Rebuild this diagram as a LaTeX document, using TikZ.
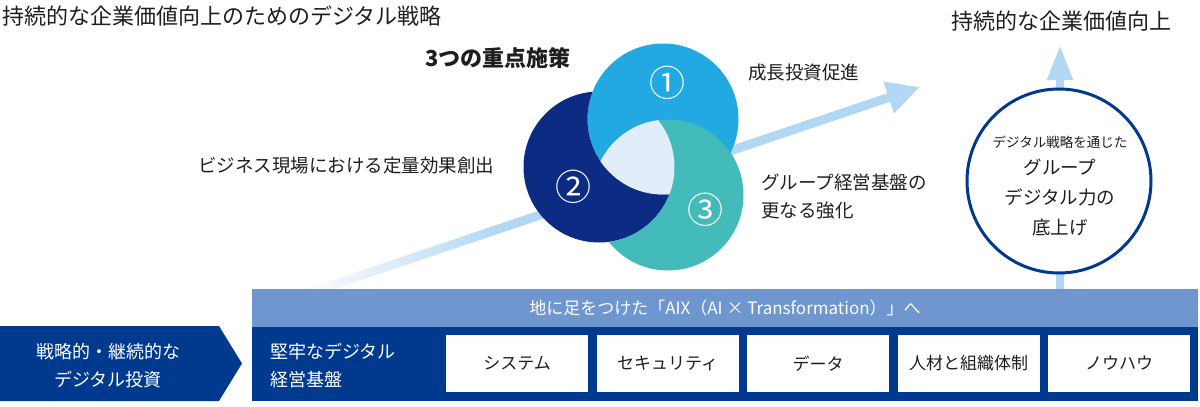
\documentclass[tikz,border=0pt]{standalone}
\usepackage{fontspec}
\setmainfont{Noto Sans CJK JP}
\usetikzlibrary{calc,arrows.meta}
\definecolor{skyblue}{HTML}{22A9E1}
\definecolor{navyblue}{HTML}{0B2C82}
\definecolor{tealgreen}{HTML}{44BBBB}
\definecolor{corefill}{HTML}{E1EDF8}
\definecolor{arrowblue}{HTML}{B2D7F2}
\definecolor{barblue}{HTML}{003A8E}
\definecolor{headblue}{HTML}{6F96CE}
\definecolor{ink}{HTML}{1E1E1E}
\newcommand{\vennr}{75.5pt}
\newcommand{\fs}[2]{\fontsize{#1}{#2}\selectfont}

\begin{document}
\begin{tikzpicture}[x=1pt,y=-1pt,
  txt/.style={text=ink, inner sep=0pt, font=\fs{18.5}{28}},
  wtxt/.style={text=white, inner sep=0pt, font=\fs{18}{28}},
  num/.style={text=white, inner sep=0pt, font=\fs{36}{36}},
  item/.style={fill=white, minimum width=142pt, minimum height=57pt, inner sep=0pt, text=ink, font=\fs{17}{20}}]
  \useasboundingbox (0,0) rectangle (1200,407);

  \node (title) at (2,16) [anchor=west, txt, font=\fs{22}{22}] {持続的な企業価値向上のためのデジタル戦略};
  \node (goaltitle) at (1061,21) [txt, font=\fs{22}{22}] {持続的な企業価値向上};

  % growth arrow
  \coordinate (g0) at (300,296);
  \coordinate (g1) at (500,228.5);
  \coordinate (g2) at (920,87);
  \shade[left color=white, right color=arrowblue]
    ($(g0)+(1.44,4.26)$) -- ($(g1)+(1.44,4.26)$) -- ($(g1)-(1.44,4.26)$) -- ($(g0)-(1.44,4.26)$) -- cycle;
  \draw[arrowblue, line width=9pt, -{Triangle[length=33pt,width=31pt]}] (g1) -- (g2);

  % up arrow and circle
  \coordinate (u0) at (1060,290);
  \coordinate (u1) at (1060,45);
  \draw[arrowblue, line width=8pt, -{Triangle[length=35pt,width=24pt]}] (u0) -- (u1);
  \node (goal) at (1059,181) [circle, draw=barblue, line width=3pt, fill=white, minimum size=184pt] {};
  \node (goalsub) at (1060,142) [txt, font=\fs{13.5}{14}] {デジタル戦略を通じた};
  \node (goalmain) at (1060,197) [txt, align=center, font=\fs{18.5}{30}] {グループ\\デジタル力の\\底上げ};

  % three measures
  \coordinate (c1) at (663,119);
  \coordinate (c2) at (599,167);
  \coordinate (c3) at (668,195);
  \fill[skyblue] (c1) circle (\vennr);
  \begin{scope}
    \clip (c2) circle (\vennr);
    \fill[navyblue, even odd rule] (500,20) rectangle (780,300) (c1) circle (\vennr);
  \end{scope}
  \begin{scope}
    \clip (c3) circle (\vennr);
    \fill[tealgreen, even odd rule] (500,20) rectangle (780,300) (c2) circle (\vennr);
  \end{scope}
  \begin{scope}
    \clip (c1) circle (\vennr);
    \clip (c2) circle (\vennr);
    \fill[corefill] (c3) circle (\vennr);
  \end{scope}
  \node (n1) at (667,83) [num] {①};
  \node (n2) at (573,187) [num] {②};
  \node (n3) at (705,210) [num] {③};

  \node (measures) at (425,58) [anchor=west, txt, font=\bfseries\fs{22}{22}] {3つの重点施策};
  \node (m1) at (748,73) [anchor=west, txt] {成長投資促進};
  \node (m2) at (198,166) [anchor=west, txt] {ビジネス現場における定量効果創出};
  \node (m3) at (761,197) [anchor=west, txt, align=left] {グループ経営基盤の\\更なる強化};

  % foundation
  \fill[barblue] (0,326) -- (219,326) -- (242,363.5) -- (219,401) -- (0,401) -- cycle;
  \node (invest) at (108,366) [wtxt, align=center] {戦略的・継続的な\\デジタル投資};
  \node (head) at (725,308) [fill=headblue, minimum width=946pt, minimum height=38pt, inner sep=0pt, text=white, font=\fs{17}{20}] {地に足をつけた「AIX（AI × Transformation）」へ};
  \node (base) at (725,364) [fill=barblue, minimum width=946pt, minimum height=74pt, inner sep=0pt] {};
  \node (basetxt) at (270,366) [anchor=west, wtxt, align=left] {堅牢なデジタル\\経営基盤};
  \node (b1) at (517,363.5) [item] {システム};
  \node (b2) at (667.5,363.5) [item] {セキュリティ};
  \node (b3) at (818,363.5) [item] {データ};
  \node (b4) at (968.5,363.5) [item] {人材と組織体制};
  \node (b5) at (1119,363.5) [item] {ノウハウ};
\end{tikzpicture}
\end{document}
